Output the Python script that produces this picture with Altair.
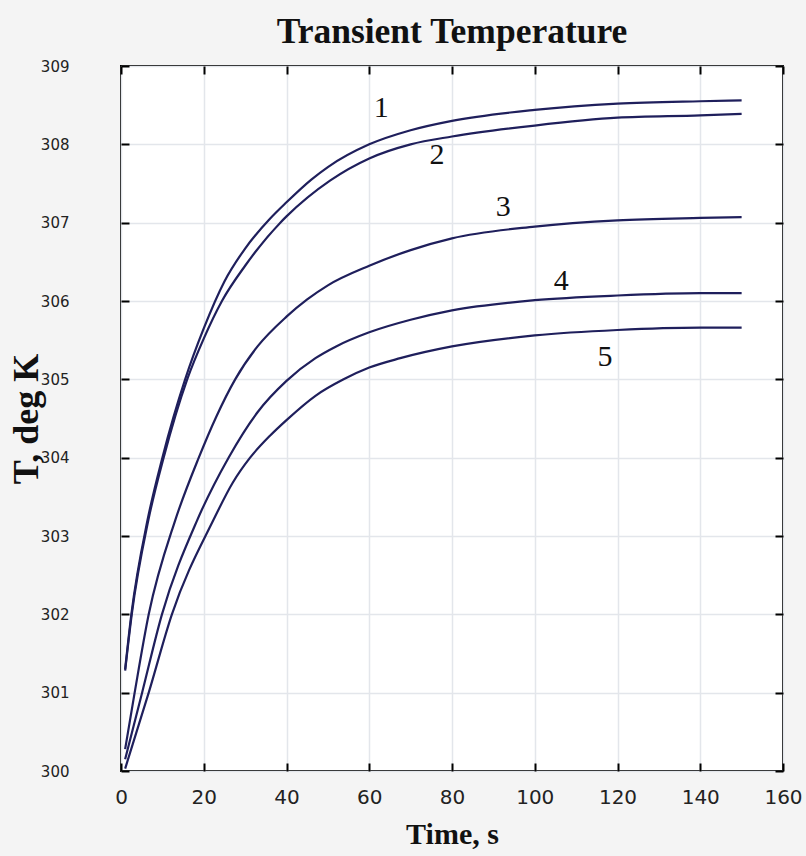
import altair as alt
import pandas as pd

# ---- data ----
curve_names = ["1", "2", "3", "4", "5"]

t1 = [1, 2.5, 6.4, 10, 15.5, 20, 25, 30, 36, 40, 46, 50, 60, 70, 80, 100, 120, 140, 150]
T1 = [301.3, 302.0, 303.2, 304.0, 305.0, 305.65, 306.25, 306.67, 307.05, 307.26, 307.55, 307.71,
      308.0, 308.18, 308.3, 308.44, 308.52, 308.55, 308.56]

t2 = [1, 2.6, 6.6, 10.3, 16, 20, 24.4, 30, 38.5, 40, 50.6, 60, 70, 80, 100, 120, 140, 150]
T2 = [301.28, 302.0, 303.2, 304.0, 305.0, 305.52, 306.0, 306.45, 307.0, 307.08, 307.54, 307.82,
      308.0, 308.1, 308.24, 308.34, 308.37, 308.39]

t3 = [1, 3.3, 6.7, 13.1, 18.8, 23, 27.6, 33, 40, 45, 50, 60, 70, 80, 100, 120, 140, 150]
T3 = [300.28, 301.0, 302.0, 303.2, 304.0, 304.52, 305.0, 305.42, 305.8, 306.02, 306.2, 306.45,
      306.65, 306.8, 306.95, 307.03, 307.06, 307.07]

t4 = [1, 5.1, 9.9, 18.4, 26, 33, 40, 47, 52, 60, 70, 80, 100, 120, 140, 150]
T4 = [300.15, 301.0, 302.0, 303.2, 304.0, 304.58, 304.98, 305.27, 305.42, 305.6, 305.76, 305.88,
      306.01, 306.07, 306.1, 306.1]

t5 = [1, 6.7, 12.3, 22.3, 27, 31.2, 36, 40, 47, 53.8, 60, 67.5, 80, 100, 120, 140, 150]
T5 = [300.03, 301.0, 302.0, 303.2, 303.68, 304.0, 304.28, 304.48, 304.79, 305.0, 305.15, 305.27,
      305.42, 305.56, 305.63, 305.66, 305.66]

label_text = ["1", "2", "3", "4", "5"]
label_t = [62.9, 76.4, 92.4, 106.4, 117.0]
label_T = [308.47, 307.86, 307.2, 306.26, 305.28]

x_ticks = [0, 20, 40, 60, 80, 100, 120, 140, 160]
y_ticks = [300, 301, 302, 303, 304, 305, 306, 307, 308, 309]

# ---- tables ----
rows = []
for name, ts, Ts in zip(curve_names, [t1, t2, t3, t4, t5], [T1, T2, T3, T4, T5]):
    for a, b in zip(ts, Ts):
        rows.append({"curve": name, "t": a, "T": b})
df = pd.DataFrame(rows)
lab_df = pd.DataFrame({"label": label_text, "t": label_t, "T": label_T})

W, H = 662, 705
xscale = alt.Scale(domain=[0, 160], nice=False, zero=False)
yscale = alt.Scale(domain=[300, 309], nice=False, zero=False)

common_axis = dict(
    offset=-8, tickSize=8, tickColor="black", tickWidth=2, domain=False,
)

lines = alt.Chart(df).mark_line(color="#1f1f5c", strokeWidth=2.2, interpolate="monotone").encode(
    x=alt.X("t:Q", scale=xscale,
            axis=alt.Axis(orient="bottom", values=x_ticks, title="Time, s",
                          grid=True, gridColor="#e3e6eb", gridWidth=1.5,
                          labelFont="DejaVu Sans", labelFontSize=20, labelColor="#222",
                          labelPadding=16, labelFlush=False,
                          titleFont="Liberation Serif", titleFontSize=30, titleFontWeight="bold",
                          titleColor="#111", titlePadding=12, **common_axis)),
    y=alt.Y("T:Q", scale=yscale,
            axis=alt.Axis(orient="left", values=y_ticks, title="T, deg K", format="d",
                          grid=True, gridColor="#e3e6eb", gridWidth=1.5,
                          labelFont="DejaVu Sans", labelFontSize=15, labelColor="#222",
                          labelPadding=52, labelFlush=False,
                          titleFont="Liberation Serif", titleFontSize=36, titleFontWeight="bold",
                          titleColor="#111", titlePadding=-5, **common_axis)),
    detail="curve:N",
)

labels = alt.Chart(lab_df).mark_text(
    font="Liberation Serif", fontSize=30, color="#111", align="center", baseline="middle"
).encode(
    x=alt.X("t:Q", scale=xscale,
            axis=alt.Axis(orient="top", values=x_ticks, labels=False, title=None, grid=False,
                          **common_axis)),
    y=alt.Y("T:Q", scale=yscale,
            axis=alt.Axis(orient="right", values=y_ticks, labels=False, title=None, grid=False,
                          **common_axis)),
    text="label:N",
)

chart = alt.layer(lines, labels).resolve_axis(x="independent", y="independent").properties(
    width=W, height=H,
    title=alt.Title("Transient Temperature", font="Liberation Serif", fontSize=35.5,
                    fontWeight="bold", color="#111", anchor="middle", offset=9),
    autosize=alt.AutoSizeParams(type="none"),
    padding={"left": 121, "top": 66, "right": 23, "bottom": 85},
    background="#f4f4f4",
).configure_view(stroke="black", strokeWidth=2, fill="white")

chart.save("out.html", embed_options={"renderer": "svg", "actions": False})
